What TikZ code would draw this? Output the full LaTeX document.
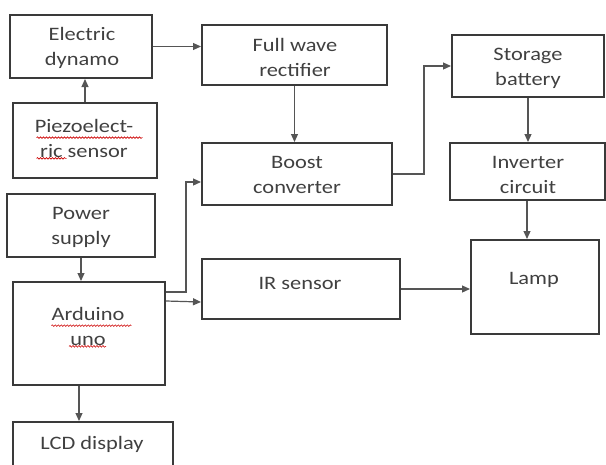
\documentclass[tikz,border=0pt]{standalone}
\usepackage{fontspec}
\setmainfont{Carlito}[FakeStretch=1.18]
\usetikzlibrary{arrows.meta,calc,decorations.pathmorphing}
\definecolor{boxline}{HTML}{3A3A3A}
\definecolor{conn}{HTML}{555555}
\definecolor{txt}{HTML}{404040}
\tikzset{
  box/.style={draw=boxline, line width=2pt, inner sep=0pt},
  lbl/.style={text=txt, align=center, font=\fontsize{19}{25}\selectfont, inner sep=0pt},
  arr/.style={draw=conn, line width=1.2pt, -{Triangle[length=8pt,width=7pt]}},
  spell/.style={draw=red!80!black, line width=0.6pt, decorate, decoration={snake, amplitude=0.8pt, segment length=3pt}}
}
\begin{document}
\begin{tikzpicture}[x=1pt,y=-1pt]
\useasboundingbox (0,0) rectangle (606,464);
\begin{scope}
\clip (0,0) rectangle (606,464);
% boxes
\node[box, minimum width=142pt, minimum height=63pt] (dyn) at (81,46.5) {};
\node[box, minimum width=144pt, minimum height=75pt] (piezo) at (85,140.5) {};
\node[box, minimum width=185pt, minimum height=60pt] (rect) at (294.5,55) {};
\node[box, minimum width=190pt, minimum height=62pt] (boost) at (297,174) {};
\node[box, minimum width=152pt, minimum height=62pt] (bat) at (528,66) {};
\node[box, minimum width=155pt, minimum height=57pt] (inv) at (527,171.5) {};
\node[box, minimum width=128pt, minimum height=94pt] (lamp) at (535,287) {};
\node[box, minimum width=198pt, minimum height=60pt] (ir) at (301,289) {};
\node[box, minimum width=148pt, minimum height=63pt] (pow) at (81,225.5) {};
\node[box, minimum width=152pt, minimum height=103pt] (ard) at (89,333.5) {};
\node[box, minimum width=160pt, minimum height=58pt] (lcd) at (93,451) {};
% texts
\node[lbl] (tdyn) at (82,48) {Electric\\dynamo};
\node[lbl] (tpiezo) at (84,138) {Piezoelect-\\ric sensor};
\node[lbl] (trect) at (295,57) {Full wave\\rectifier};
\node[lbl] (tbat) at (528,68) {Storage\\battery};
\node[lbl] (tboost) at (297,175) {Boost\\converter};
\node[lbl] (tinv) at (528,175) {Inverter\\circuit};
\node[lbl] (tpow) at (81,227) {Power\\supply};
\node[lbl] (tard) at (88,326) {Arduino\\uno};
\node[lbl] (tir) at (300,283) {IR sensor};
\node[lbl] (tlamp) at (534,280) {Lamp};
\node[lbl] (tlcd) at (92,444) {LCD display};
% spelling underlines
\draw[spell] ($(tpiezo.north west)+(2,19)$) -- ++(106,0);
\draw[spell] ($(tpiezo.south west)+(2,1)$) -- ++(30,0);
\draw[spell] ($(tard.north west)+(0,19)$) -- ++(80,0);
\draw[spell] ($(tard.south)+(-19,1)$) -- ++(37,0);
% connectors
\coordinate (ardb) at ($(ard.south)+(-10,0)$);
\coordinate (ardr1) at ($(ard.north east)+(0,11)$);
\coordinate (ardr2) at ($(ard.north east)+(0,20)$);
\draw[arr] (piezo.north) -- (piezo.north |- dyn.south);
\draw[arr] (dyn.east) -- (dyn.east -| rect.west);
\draw[arr] (rect.south) -- (rect.south |- boost.north);
\draw[arr] (boost.east) -- ++(31,0) |- (bat.west);
\draw[arr] (bat.south) -- (bat.south |- inv.north);
\draw[arr] (inv.south) -- (inv.south |- lamp.north);
\draw[arr] (ir.east) -- (ir.east -| lamp.west);
\draw[arr] (pow.south) -- (pow.south |- ard.north);
\draw[arr] (ardr1) -- ++(20,0) |- ($(boost.west)+(0,8)$);
\draw[arr] (ardr2) -- ($(ir.west)+(0,13)$);
\draw[arr] (ardb) -- (ardb |- lcd.north);
\end{scope}
\end{tikzpicture}
\end{document}
